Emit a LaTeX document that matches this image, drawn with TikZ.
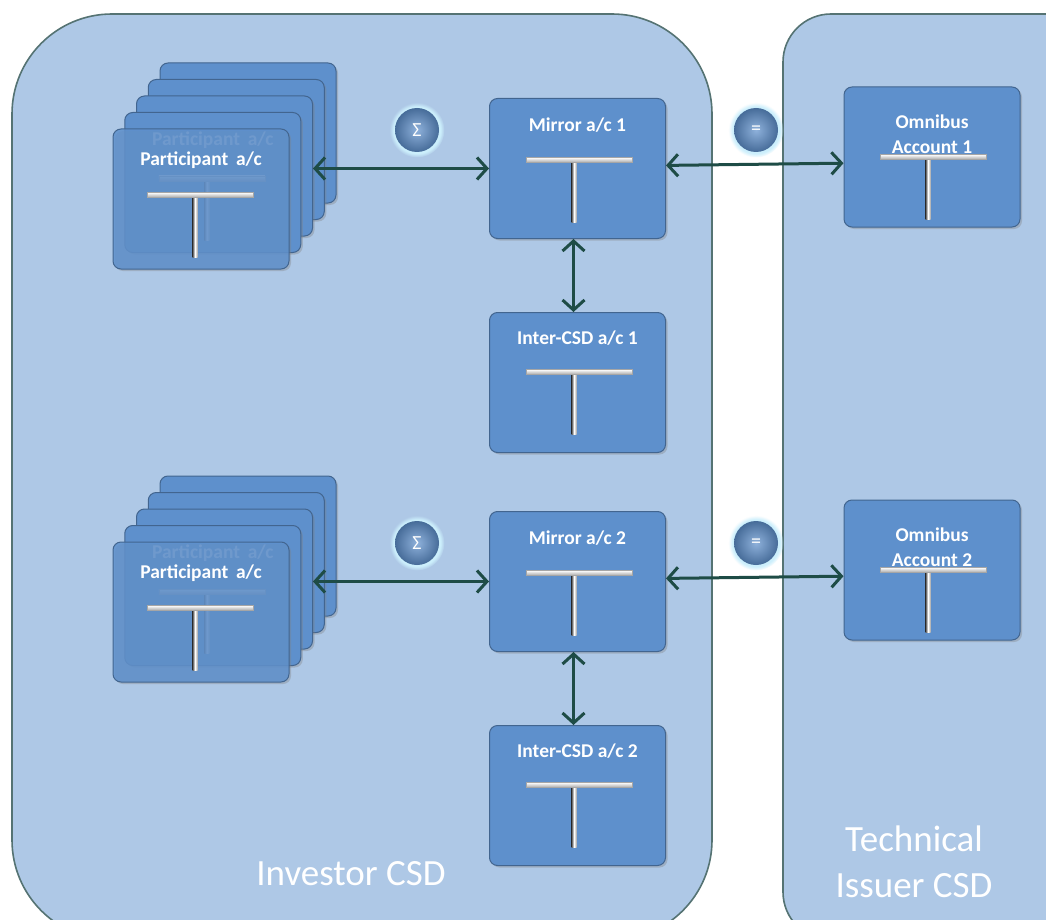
\documentclass[tikz,border=0pt]{standalone}
\usepackage{fontspec}
\setmainfont{Carlito}
\usetikzlibrary{arrows.meta,shadows}
\definecolor{csdfill}{RGB}{174,200,230}
\definecolor{csdline}{RGB}{85,115,115}
\definecolor{boxblue}{RGB}{94,144,204}
\definecolor{linkgreen}{RGB}{30,76,70}
\newcommand{\tee}[1]{%
  \begin{scope}[shift={#1}]
    \shade[left color=gray!60!black,right color=gray!70,middle color=white] (-2.5,0) rectangle (2.5,62);
    \shade[top color=white,bottom color=gray!70,draw=gray!70,line width=.4pt] (-48,-2.5) rectangle (58,2.5);
  \end{scope}}
\newcommand{\acbox}[7][]{%
  \node[acbox,#1] (#2) at #3 {};
  \node[aclabel] (#2l) at ([yshift=#5]#2.center) {#4};
  \tee{([xshift=#6,yshift=#7]#2.center)}}
\begin{document}
\begin{tikzpicture}[x=1pt,y=-1pt,
    acbox/.style={minimum width=176pt,minimum height=140pt,inner sep=0pt,rounded corners=8pt,
      fill=boxblue,draw=boxblue!70!black,line width=1pt,
      drop shadow={opacity=.35,shadow xshift=2pt,shadow yshift=-2pt}},
    aclabel/.style={text=white,font=\bfseries\fontsize{19.5}{25}\selectfont,align=center,inner sep=1pt},
    csd/.style={fill=csdfill,draw=csdline,line width=1.6pt},
    csdlabel/.style={text=white,font=\fontsize{37}{46}\selectfont,align=center},
    ballnode/.style={circle,minimum size=44pt,inner sep=0pt,inner color=boxblue!70!white,
      outer color=boxblue!75!black,text=white,
      font=\fontsize{20}{20}\selectfont,circular glow={fill=cyan!20}},
    link/.style={draw=linkgreen,line width=3pt,>={Straight Barb[length=10pt,width=22pt]},<->}]
  \useasboundingbox (0,0) rectangle (1046,920);
  \clip (0,0) rectangle (1046,920);
  \fill[white] (0,0) rectangle (1046,920);
  \draw[csd,rounded corners=100pt] (12,14) rectangle (712,940);
  \draw[csd,rounded corners=48pt] (783,14) rectangle (1100,940);
  \node[csdlabel] (invl) at (351,874) {Investor CSD};
  \node[csdlabel] (tecl) at (914,862) {Technical\\Issuer CSD};
  \foreach \r/\sh in {1/0,2/413} {
    \foreach \i in {4,3,2}
      \node[acbox] (p\r\i) at ({201+11.75*\i},{199-16.5*\i+\sh}) {};
    \acbox{p\r1}{(212.75,182.5+\sh)}{Participant\, a/c}{42pt}{-6pt}{4pt}
    \acbox[fill opacity=.85]{p\r0}{(201,199+\sh)}{Participant\, a/c}{39pt}{-6pt}{4pt}
    \acbox{mir\r}{(577.5,168.5+\sh)}{Mirror a/c \r}{43.5pt}{-3.5pt}{8.5pt}
    \acbox{int\r}{(577.5,382.5+\sh)}{Inter-CSD a/c \r}{44.5pt}{-3.5pt}{10.5pt}
    \acbox{omn\r}{(932,157+\sh)}{Omnibus\\Account \r}{22.5pt}{-4pt}{0pt}
    \node[ballnode] (sum\r) at (417,130+\sh) {Σ};
    \node[ballnode] (eq\r) at (756,130+\sh) {=};
    \draw[link] (p\r2.east |- mir\r.west) -- (mir\r.west);
    \draw[link] (mir\r.2) -- (omn\r.184);
    \draw[link] ([xshift=-4pt]mir\r.south) -- ([xshift=-4pt]int\r.north);
  }
\end{tikzpicture}
\end{document}
